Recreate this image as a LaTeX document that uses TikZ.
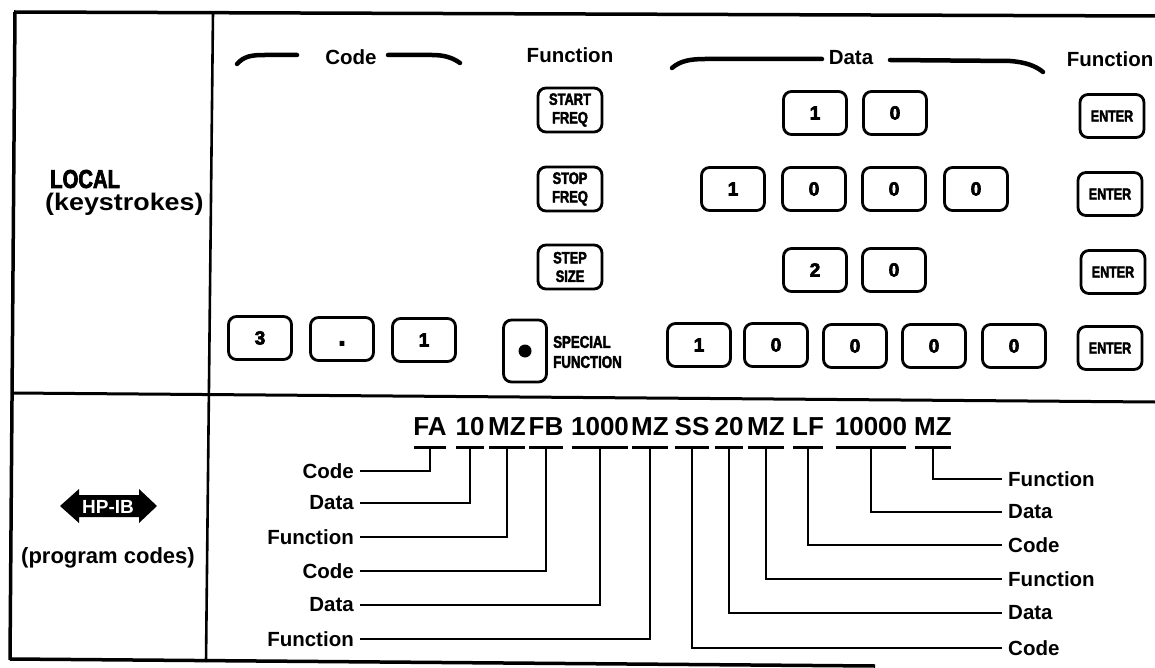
\documentclass[tikz,border=0pt]{standalone}
\usepackage{fontspec}
\setmainfont{Liberation Sans}
\newfontfamily\kf[FakeStretch=0.78,FakeBold=2.5]{Liberation Sans Bold}
\newfontfamily\wf[FakeStretch=1.12]{Liberation Sans Bold}
\newfontfamily\df[FakeBold=3.5]{Liberation Sans Bold}
\usetikzlibrary{calc}
\begin{document}
\begin{tikzpicture}[x=1pt,y=-1pt,
  frame/.style={line width=3.5pt},
  kbd/.style={draw, line width=2.8pt, rounded corners=8pt, minimum width=63pt, minimum height=43pt, inner sep=0pt},
  dig/.style={kbd, font=\df\fontsize{19}{19}\selectfont, text height=13pt, text depth=0pt},
  fkey/.style={kbd, minimum width=64pt, minimum height=44pt, align=center, font=\kf\fontsize{16.5}{18.5}\selectfont},
  enter/.style={kbd, minimum width=64pt, minimum height=43pt, font=\kf\fontsize{16}{16}\selectfont},
  hdr/.style={font=\fontsize{20.5}{24}\selectfont\bfseries, inner sep=0pt},
  lbl/.style={font=\fontsize{20.5}{24}\selectfont\bfseries, inner sep=6pt},
  grp/.style={font=\fontsize{26}{30}\selectfont\bfseries, inner sep=0pt, anchor=base},
  bar/.style={line width=3pt},
  conn/.style={line width=2.5pt},
  brace/.style={line width=4.5pt, line cap=round}
]
\useasboundingbox (0,0) rectangle (1155,668);

% frame
\draw[frame] (14,12) -- (1155,16);
\draw[frame] (15,12) -- (10,660);
\draw[line width=2.6pt] (213,12) -- (206,662);
\draw[line width=3pt] (12,393) -- (1155,402);
\draw[frame] (10,659) -- (875,666);

% left column
\node[font=\kf\fontsize{26}{30}\selectfont, anchor=base west, inner sep=0pt] (local) at (50,188) {LOCAL};
\node[font=\wf\fontsize{24}{28}\selectfont, anchor=base west, inner sep=0pt] (keys) at (45,211) {(keystrokes)};
\fill (60,506) -- (79,489) -- (79,495) -- (139,495) -- (139,489) -- (157,506) -- (139,523) -- (139,517) -- (79,517) -- (79,523) -- cycle;
\node[font=\fontsize{19}{19}\selectfont\bfseries, text=white, inner sep=0pt] (hpib) at (108,507) {HP-IB};
\node[font=\fontsize{22}{26}\selectfont\bfseries, anchor=base west, inner sep=0pt] (prog) at (21,563) {(program codes)};

% headers
\node[hdr] (hcode) at (351,57) {Code};
\node[hdr] (hfn1) at (570,55) {Function};
\node[hdr] (hdata) at (851,58) {Data};
\node[hdr] (hfn2) at (1110,59) {Function};
\draw[brace] (237,64) .. controls (244,56) and (252,55) .. (265,55) -- (297,55);
\draw[brace] (388,55) -- (432,55) .. controls (445,55) and (453,58) .. (460,63);
\draw[brace] (672,68) .. controls (680,61) and (690,59) .. (705,59) -- (822,59);
\draw[brace] (890,60) -- (1010,61) .. controls (1025,62) and (1036,66) .. (1043,72);

% row 1
\node[fkey] (startf) at (570,110) {START\\FREQ};
\node[dig] (d11) at (815,113) {1};
\node[dig] (d12) at (895,113) {0};
\node[enter] (en1) at (1112,116) {ENTER};
% row 2
\node[fkey] (stopf) at (570,189) {STOP\\FREQ};
\node[dig] (d21) at (733,189) {1};
\node[dig] (d22) at (814,189) {0};
\node[dig] (d23) at (894,189) {0};
\node[dig] (d24) at (976,189) {0};
\node[enter] (en2) at (1110,194) {ENTER};
% row 3
\node[fkey] (stepz) at (570,267) {STEP\\SIZE};
\node[dig] (d31) at (815,270) {2};
\node[dig] (d32) at (894,270) {0};
\node[enter] (en3) at (1113,272) {ENTER};
% row 4
\node[dig] (c1) at (260,338) {3};
\node[dig, font=\df\fontsize{28}{28}\selectfont] (c2) at (342,339) {.};
\node[dig] (c3) at (424,340) {1};
\node[kbd, minimum width=43pt, minimum height=62pt] (sf) at (525,351) {};
\fill (sf.center) circle (6.5pt);
\node[font=\kf\fontsize{17}{20}\selectfont, align=left, anchor=west, inner sep=0pt] (sftext) at (553,352) {SPECIAL\\FUNCTION};
\node[dig] (d41) at (699,345) {1};
\node[dig] (d42) at (776,345) {0};
\node[dig] (d43) at (855,346) {0};
\node[dig] (d44) at (934,346) {0};
\node[dig] (d45) at (1014,346) {0};
\node[enter] (en4) at (1110,348) {ENTER};

% program code string
\coordinate (bary) at (0,447);
\node[grp] (g1) at (430,435) {FA};
\node[grp] (g2) at (470,435) {10};
\node[grp] (g3) at (507,435) {MZ};
\node[grp] (g4) at (546,435) {FB};
\node[grp] (g5) at (600,435) {1000};
\node[grp] (g6) at (650,435) {MZ};
\node[grp] (g7) at (692,435) {SS};
\node[grp] (g8) at (729,435) {20};
\node[grp] (g9) at (766,435) {MZ};
\node[grp] (g10) at (808,435) {LF};
\node[grp] (g11) at (871,435) {10000};
\node[grp] (g12) at (933,435) {MZ};
\foreach \g in {g1,g2,g3,g4,g5,g6,g7,g8,g9,g10,g11,g12}
  \draw[bar] ([xshift=1pt]\g.west |- bary) -- ([xshift=-1pt]\g.east |- bary);

% labels
\node[lbl, anchor=east] (lc1) at (360,471) {Code};
\node[lbl, anchor=east] (ld1) at (360,503) {Data};
\node[lbl, anchor=east] (lf1) at (360,537) {Function};
\node[lbl, anchor=east] (lc2) at (360,571) {Code};
\node[lbl, anchor=east] (ld2) at (360,605) {Data};
\node[lbl, anchor=east] (lf2) at (360,639) {Function};
\node[lbl, anchor=west] (rf1) at (1002,479) {Function};
\node[lbl, anchor=west] (rd1) at (1002,512) {Data};
\node[lbl, anchor=west] (rc1) at (1002,545) {Code};
\node[lbl, anchor=west] (rf2) at (1002,579) {Function};
\node[lbl, anchor=west] (rd2) at (1002,613) {Data};
\node[lbl, anchor=west] (rc2) at (1002,648) {Code};

% connectors
\draw[conn] (g1.south |- bary) |- (lc1.east);
\draw[conn] (g2.south |- bary) |- (ld1.east);
\draw[conn] (g3.south |- bary) |- (lf1.east);
\draw[conn] (g4.south |- bary) |- (lc2.east);
\draw[conn] (g5.south |- bary) |- (ld2.east);
\draw[conn] (g6.south |- bary) |- (lf2.east);
\draw[conn] (g7.south |- bary) |- (rc2.west);
\draw[conn] (g8.south |- bary) |- (rd2.west);
\draw[conn] (g9.south |- bary) |- (rf2.west);
\draw[conn] (g10.south |- bary) |- (rc1.west);
\draw[conn] (g11.south |- bary) |- (rd1.west);
\draw[conn] (g12.south |- bary) |- (rf1.west);
\end{tikzpicture}
\end{document}
